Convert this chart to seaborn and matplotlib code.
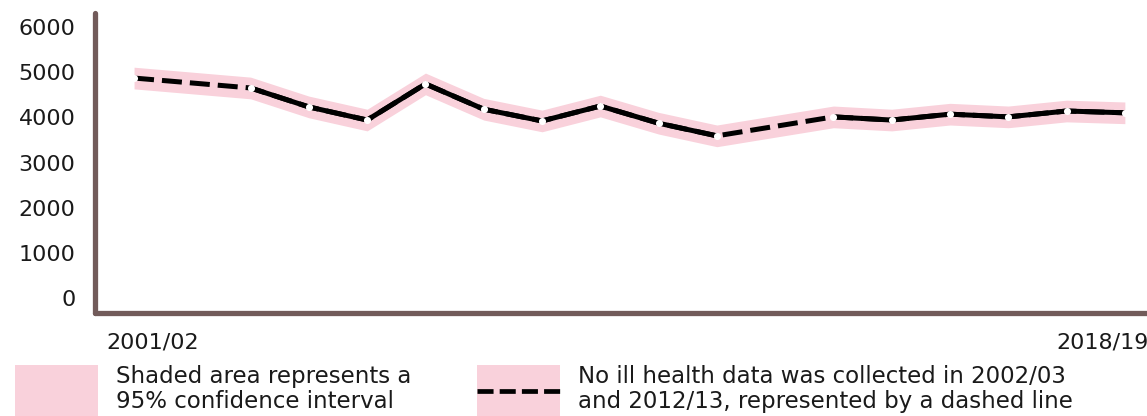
import numpy as np
import pandas as pd
import matplotlib
matplotlib.use("Agg")
import matplotlib.pyplot as plt
import matplotlib.transforms as mtransforms
import seaborn as sns
from matplotlib.patches import Patch
from matplotlib.lines import Line2D
from matplotlib.legend_handler import HandlerTuple, HandlerLine2D

years = ["2001/02", "2002/03", "2003/04", "2004/05", "2005/06", "2006/07",
         "2007/08", "2008/09", "2009/10", "2010/11", "2011/12", "2012/13",
         "2013/14", "2014/15", "2015/16", "2016/17", "2017/18", "2018/19"]
cases = [4870, np.nan, 4650, 4230, 3940, 4740, 4180, 3920, 4250, 3870,
         3590, np.nan, 4010, 3940, 4070, 4010, 4140, 4100]
ci_low = [4630, np.nan, 4410, 3990, 3700, 4500, 3940, 3680, 4010, 3630,
          3350, np.nan, 3770, 3700, 3830, 3770, 3900, 3860]
ci_high = [5110, np.nan, 4890, 4470, 4180, 4980, 4420, 4160, 4490, 4110,
           3830, np.nan, 4250, 4180, 4310, 4250, 4380, 4340]
y_ticks = [0, 1000, 2000, 3000, 4000, 5000, 6000]

pink = "#f9d1db"
axis_col = "#725b5a"
text_col = "#1a1a1a"


class MidLine(HandlerLine2D):
    # put the legend line in the vertical middle of the pink box
    def create_artists(self, legend, orig_handle, xdescent, ydescent,
                       width, height, fontsize, trans):
        arts = super().create_artists(legend, orig_handle, xdescent, ydescent,
                                      width, height, fontsize, trans)
        for a in arts:
            a.set_ydata(np.full_like(a.get_xdata(), height / 2 - ydescent))
        return arts


df = pd.DataFrame({"pos": np.arange(len(years)), "year": years,
                   "cases": cases, "low": ci_low, "high": ci_high})
known = df.dropna()

sns.set_theme(style="white")
plt.rcParams["font.family"] = ["DejaVu Sans"]

fig = plt.figure(figsize=(11.47, 4.16), dpi=100)
ax = fig.add_axes([95 / 1147, 103 / 416, 1 - 95 / 1147, 300 / 416])

ax.fill_between(known["pos"], known["low"], known["high"], color=pink, lw=0, zorder=1)
# dashed line bridges the years with no data, solid line drawn over it
sns.lineplot(data=known, x="pos", y="cases", ax=ax, color="black", lw=3.6,
             linestyle=(0, (4, 1.6)), zorder=2)
ax.plot(df["pos"], df["cases"], color="black", lw=3.6, solid_capstyle="butt", zorder=3)
sns.scatterplot(data=known, x="pos", y="cases", ax=ax, color="white", s=26,
                linewidth=0, zorder=4)

ax.set_xlim(-0.67, 17.38)
ax.set_ylim(-332, 6310)
ax.set_yticks(y_ticks)
ax.set_yticklabels([str(v) for v in y_ticks], fontsize=16, color=text_col)
ax.set_xticks([0, 17])
ax.set_xticklabels([years[0], years[-1]], fontsize=16, color=text_col)
ax.tick_params(axis="y", length=0, pad=14)
ax.tick_params(axis="x", length=0, pad=14)
ax.set_xlabel("")
ax.set_ylabel("")
xl = ax.get_xticklabels()
xl[0].set_transform(xl[0].get_transform() + mtransforms.ScaledTranslation(0.19, 0, fig.dpi_scale_trans))
xl[1].set_transform(xl[1].get_transform() + mtransforms.ScaledTranslation(-0.22, 0, fig.dpi_scale_trans))

for side in ["top", "right"]:
    ax.spines[side].set_visible(False)
for side in ["left", "bottom"]:
    ax.spines[side].set_color(axis_col)
    ax.spines[side].set_linewidth(3.8)
    ax.spines[side].set_capstyle("round")

h1 = Patch(facecolor=pink, edgecolor="none")
h2 = (Patch(facecolor=pink, edgecolor="none"),
      Line2D([], [], color="black", lw=3.4, linestyle=(0, (3.4, 1.3))))
leg_kw = dict(loc="lower left", frameon=False, fontsize=16.5, handlelength=3.6,
              handleheight=3.2, handletextpad=0.8, borderpad=0, borderaxespad=0,
              labelcolor=text_col)
leg1 = fig.legend([h1], ["Shaded area represents a\n95% confidence interval"],
                  bbox_to_anchor=(15 / 1147, -0.005), **leg_kw)
leg2 = fig.legend([h2], ["No ill health data was collected in 2002/03\nand 2012/13, represented by a dashed line"],
                  handler_map={tuple: HandlerTuple(ndivide=1, pad=0), Line2D: MidLine()},
                  bbox_to_anchor=(477 / 1147, -0.005), **leg_kw)
for leg in (leg1, leg2):
    for t in leg.get_texts():
        t.set_linespacing(1.15)

fig.savefig("out.png", dpi=100)
